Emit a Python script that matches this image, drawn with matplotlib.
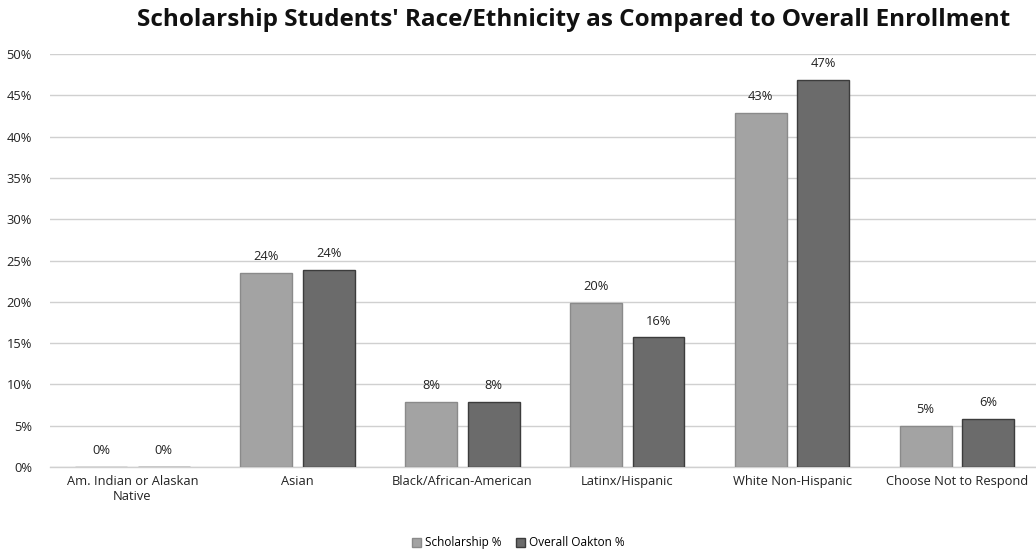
import matplotlib.pyplot as plt
import numpy as np

plt.rcParams['font.family'] = ['Open Sans', 'DejaVu Sans']

categories = ["Am. Indian or Alaskan\nNative", "Asian", "Black/African-American",
              "Latinx/Hispanic", "White Non-Hispanic", "Choose Not to Respond"]
scholarship = [0.0, 23.5, 7.9, 19.9, 42.9, 5.0]
overall = [0.0, 23.9, 7.9, 15.7, 46.9, 5.8]
scholarship_lbl = ["0%", "24%", "8%", "20%", "43%", "5%"]
overall_lbl = ["0%", "24%", "8%", "16%", "47%", "6%"]

fig = plt.figure(figsize=(10.36, 5.49), dpi=100)
ax = fig.add_axes([0.0483, 0.1494, 0.955, 0.7522])

x = np.arange(len(categories))
w = 0.315
off = 0.19
b1 = ax.bar(x - off, scholarship, w, color='#a3a3a3', edgecolor='#8a8a8a', linewidth=1, label='Scholarship %', zorder=3)
b2 = ax.bar(x + off, overall, w, color='#6b6b6b', edgecolor='#3c3c3c', linewidth=1, label='Overall Oakton %', zorder=3)

for bars, labs in ((b1, scholarship_lbl), (b2, overall_lbl)):
    for r, t in zip(bars, labs):
        ax.annotate(t, (r.get_x() + r.get_width()/2, r.get_height()), xytext=(0, 7),
                    textcoords='offset points', ha='center', va='bottom', fontsize=9.3, color='#222222')

ax.set_xlim(-0.5, len(categories) - 0.5)
ax.set_ylim(0, 50)
ax.set_yticks(np.arange(0, 51, 5))
ax.set_yticklabels([f'{v}%' for v in range(0, 51, 5)])
ax.set_xticks(x)
ax.set_xticklabels(categories)
ax.tick_params(axis='both', length=0, labelsize=9.3, colors='#222222')
ax.tick_params(axis='y', pad=13)
ax.tick_params(axis='x', pad=6)
ax.yaxis.grid(True, color='#d0d0d0', linewidth=1.0, zorder=0)
for s in ['top', 'right', 'left']:
    ax.spines[s].set_visible(False)
ax.spines['bottom'].set_color('#d0d0d0')
ax.spines['bottom'].set_linewidth(1.0)

fig.suptitle("Scholarship Students' Race/Ethnicity as Compared to Overall Enrollment",
             fontsize=17.5, fontweight='bold', x=0.554, y=0.985, color='#111111')
fig.legend(loc='lower center', ncol=2, frameon=False, fontsize=8.5, handlelength=0.8,
           handleheight=0.8, handletextpad=0.3, columnspacing=1.2, bbox_to_anchor=(0.5, -0.02))

fig.savefig('out.png', dpi=100, facecolor='white')
